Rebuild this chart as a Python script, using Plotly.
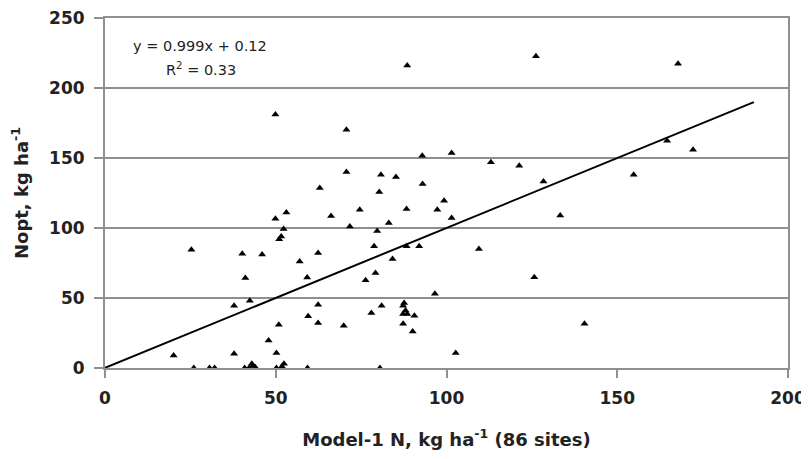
import plotly.graph_objects as go

# Model-1 N (x) vs Nopt (y), kg/ha, 86 sites
model_n = [62.9, 53.1, 49.9, 52.3, 51.0, 51.6, 66.2, 25.3, 40.2, 46.0,
           57.0, 62.4, 41.1, 59.2, 37.8, 42.4, 62.4, 59.5, 62.4, 50.9,
           47.9, 20.1, 37.8, 50.2, 52.4, 26.0, 30.6, 32.1, 40.9, 42.2,
           43.3, 43.0, 50.2, 59.3, 80.3, 99.3, 74.6, 88.3, 97.3, 71.7,
           83.1, 79.7, 101.5, 133.3, 78.8, 88.3, 92.0, 109.5, 84.2, 79.2,
           76.3, 125.7, 96.6, 81.0, 87.3, 78.0, 87.3, 88.5, 90.6, 87.3,
           90.1, 69.9, 102.7, 80.5, 88.5, 126.2, 70.7, 92.9, 101.5, 113.0,
           121.3, 70.7, 80.8, 85.2, 93.0, 128.4, 167.8, 164.6, 172.2, 154.8,
           140.4, 49.9, 44.0, 88.0, 51.8, 87.6]
nopt = [128.6, 111.0, 106.6, 99.3, 92.0, 94.0, 108.5, 84.5, 81.6, 81.0,
        76.0, 82.1, 64.3, 64.7, 44.5, 48.1, 45.2, 36.9, 32.1, 30.9,
        19.7, 9.0, 10.2, 10.7, 3.1, 0.0, 0.0, 0.0, 0.0, 0.0,
        1.5, 3.0, 0.0, 0.0, 125.8, 119.5, 113.0, 113.6, 113.0, 101.0,
        103.6, 97.8, 107.1, 109.0, 86.9, 86.9, 86.9, 85.0, 77.9, 67.9,
        62.6, 64.8, 53.0, 44.5, 44.5, 39.3, 38.6, 38.6, 37.4, 31.6,
        26.1, 30.2, 10.7, 0.0, 216.0, 222.6, 170.2, 151.6, 153.6, 146.9,
        144.5, 140.0, 138.0, 136.4, 131.4, 133.3, 217.4, 162.4, 155.9, 138.0,
        31.6, 181.0, 0.5, 41.0, 1.0, 46.5]

slope = 0.999
intercept = 0.12
r2 = 0.33
trend_x = [0, 190]
trend_y = [slope * v + intercept for v in trend_x]

x_ticks = [0, 50, 100, 150, 200]
y_ticks = [0, 50, 100, 150, 200, 250]

grid = "#8f8f8f"
font_family = "DejaVu Sans, Verdana, sans-serif"
txt = "#222222"

fig = go.Figure()
fig.add_trace(go.Scatter(
    x=trend_x, y=trend_y, mode="lines",
    line=dict(color="black", width=2), hoverinfo="skip", showlegend=False))
fig.add_trace(go.Scatter(
    x=model_n, y=nopt, mode="markers",
    marker=dict(symbol="triangle-up", size=7, color="black"),
    showlegend=False))

fig.add_annotation(
    x=0.139, y=0.92, xref="paper", yref="paper",
    text=f"y = {slope}x + {intercept}",
    showarrow=False, xanchor="center", yanchor="middle",
    font=dict(family=font_family, size=14.5, color=txt))
fig.add_annotation(
    x=0.141, y=0.855, xref="paper", yref="paper",
    text=f"R<sup>2</sup> = {r2}",
    showarrow=False, xanchor="center", yanchor="middle",
    font=dict(family=font_family, size=14.5, color=txt))

# the page body has an 8px margin, so margins are offset to keep the plot
# area at the reference position in the browser window
fig.update_layout(
    width=809, height=459,
    paper_bgcolor="white", plot_bgcolor="white",
    margin=dict(l=97, r=29, t=10, b=99),
    font=dict(family=font_family, color=txt),
    xaxis=dict(
        range=[0, 200], tickvals=x_ticks, ticktext=[str(v) for v in x_ticks],
        showgrid=False, zeroline=False, automargin=False,
        showline=True, linecolor=grid, linewidth=2, mirror=True,
        ticks="outside", ticklen=8, tickwidth=2, tickcolor=grid,
        ticklabelstandoff=6, ticklabeloverflow="allow",
        tickfont=dict(family=font_family, size=17, color=txt, weight="bold"),
        title=dict(text="Model-1 N, kg ha<sup>-1</sup> (86 sites)", standoff=26,
                   font=dict(family=font_family, size=18, color=txt, weight="bold")),
    ),
    yaxis=dict(
        range=[0, 250], tickvals=y_ticks, ticktext=[str(v) for v in y_ticks],
        showgrid=True, gridcolor=grid, gridwidth=2, zeroline=False, automargin=False,
        showline=True, linecolor=grid, linewidth=2, mirror=True,
        ticks="outside", ticklen=9, tickwidth=2, tickcolor=grid,
        ticklabelstandoff=6, ticklabeloverflow="allow",
        tickfont=dict(family=font_family, size=17, color=txt, weight="bold"),
        title=dict(text="Nopt, kg ha<sup>-1</sup>", standoff=17,
                   font=dict(family=font_family, size=18, color=txt, weight="bold")),
    ),
)

fig.write_html("out.html")
